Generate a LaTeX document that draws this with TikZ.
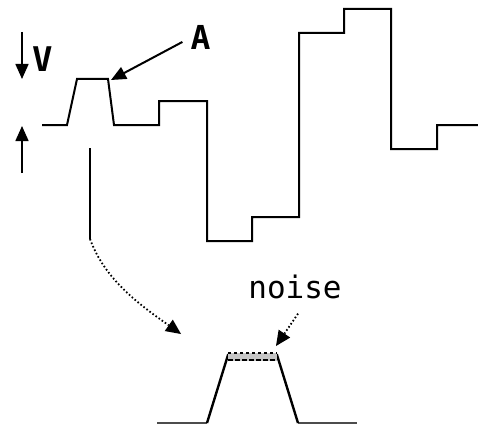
\documentclass[tikz,border=0pt]{standalone}
\usepackage{fontspec}
\newfontfamily\monof{DejaVu Sans Mono}
\usetikzlibrary{arrows.meta}
\begin{document}
\begin{tikzpicture}[x=1pt,y=-1pt,
  wave/.style={line width=2pt, line join=miter},
  arr/.style={line width=1.6pt, -{Triangle[length=15pt,width=13pt]}},
  dotarr/.style={line width=1.8pt, dash pattern=on 1.6pt off 2.2pt, -{Triangle[length=15pt,width=14pt,line width=0pt]}},
  lbl/.style={inner sep=0pt, anchor=base}]
\useasboundingbox (0,0) rectangle (478,425);
% main waveform
\draw[wave] (42,125) -- (67,125) -- (77,79) -- (108,79) -- (114,125) -- (159,125)
  -- (159,101) -- (207,101) -- (207,241) -- (252,241) -- (252,217) -- (299,217)
  -- (299,33) -- (344,33) -- (344,9) -- (391,9) -- (391,149) -- (437,149)
  -- (437,125) -- (478,125);
% V marker
\node[lbl, font=\monof\bfseries\fontsize{34}{34}\selectfont] (V) at (43,72) {V};
\coordinate (vdtop) at (22,32);
\coordinate (vdtip) at (22,79);
\coordinate (vutip) at (22,126);
\coordinate (vubot) at (22,173);
\draw[arr] (vdtop) -- (vdtip);
\draw[arr] (vubot) -- (vutip);
% A label
\node[lbl, font=\monof\bfseries\fontsize{33}{33}\selectfont] (A) at (200.5,50) {A};
\coordinate (tipA) at (111,80);
\draw[arr, line width=2pt] ([shift={(-8,4)}]A.west) -- (tipA);
% magnifier pointer
\coordinate (p0) at (90,148);
\coordinate (p1) at (90,239);
\coordinate (p2) at (181,334);
\draw[line width=2pt] (p0) -- (p1);
\draw[dotarr] (p1) .. controls (105,280) and (140,305) .. (p2);
% zoomed pulse
\draw[line width=1.2pt, gray!60!black] (157,423) -- (207,423);
\draw[line width=1.2pt, gray!60!black] (298,423) -- (357,423);
\draw[wave, line width=2.4pt] (207,423) -- (228,355) -- (277,355) -- (298,423);
\draw[fill=gray!45, draw=none] (228,353) rectangle (277,361);
\draw[line width=1.8pt, dash pattern=on 3pt off 3pt] (228,353) -- (277,353);
\draw[line width=2.2pt, dash pattern=on 5pt off 2pt] (228,360) -- (277,360);
% noise label
\node[lbl, font=\monof\fontsize{31}{31}\selectfont] (noise) at (295,298) {noise};
\coordinate (tipN) at (276,346);
\draw[dotarr] ([shift={(3,15)}]noise.south) -- (tipN);
\end{tikzpicture}
\end{document}
